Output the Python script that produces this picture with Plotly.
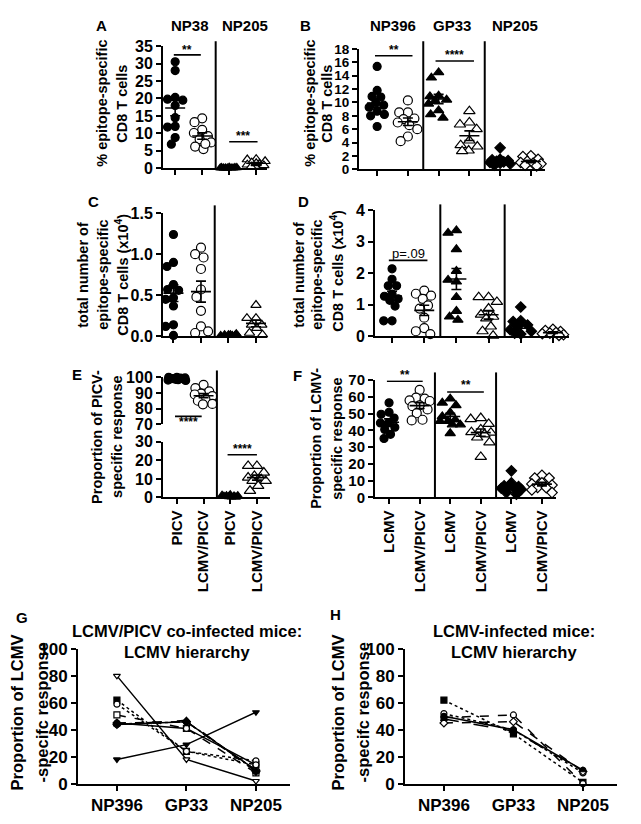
import numpy as np
import plotly.graph_objects as go

W, H = 641, 824
FONT = "Liberation Sans"

# ---------------- data ----------------
# Panel A: % epitope-specific CD8 T cells (PICV vs LCMV/PICV)
A_np38_picv = [30.5, 28.0, 20.3, 19.8, 19.5, 18.0, 14.5, 12.0, 11.8, 8.8, 6.9]
A_np38_coinf = [14.3, 13.2, 11.0, 10.1, 9.2, 8.3, 7.4, 6.2, 5.5, 7.0]
A_np205_picv = [0.3, 0.2, 0.2, 0.1, 0.1, 0.1, 0.05, 0.05, 0.2, 0.1]
A_np205_coinf = [2.6, 2.5, 2.0, 1.6, 1.2, 1.0, 0.8, 0.6, 0.4, 1.4]
# Panel B: % epitope-specific (LCMV vs LCMV/PICV)
B_np396_lcmv = [15.4, 11.8, 10.9, 10.8, 9.9, 9.6, 9.3, 8.7, 8.2, 8.0, 6.4]
B_np396_coinf = [10.3, 8.5, 8.5, 7.6, 7.5, 7.0, 6.6, 6.0, 4.9, 4.2]
B_gp33_lcmv = [14.5, 13.7, 11.0, 10.9, 10.4, 10.2, 9.8, 8.8, 8.2, 7.7]
B_gp33_coinf = [8.7, 7.0, 6.7, 6.0, 4.3, 3.6, 3.4, 2.8, 2.7]
B_np205_lcmv = [3.2, 1.5, 1.4, 1.3, 1.2, 1.1, 1.0, 0.9, 0.8, 0.6]
B_np205_coinf = [2.0, 1.9, 1.5, 1.2, 1.0, 0.9, 0.8, 0.6, 0.5]
# Panel C: total number (x10^4)
C_np38_picv = [1.24, 0.90, 0.85, 0.63, 0.57, 0.56, 0.47, 0.45, 0.37, 0.14, 0.12, 0.01]
C_np38_coinf = [1.08, 1.00, 0.96, 0.82, 0.57, 0.48, 0.31, 0.12, 0.04, 0.06]
C_np205_picv = [0.02, 0.01, 0.03, 0.01, 0.02, 0.01, 0.02, 0.01]
C_np205_coinf = [0.38, 0.22, 0.22, 0.14, 0.14, 0.10, 0.04, 0.02]
# Panel D: total number (x10^4)
D_np396_lcmv = [2.14, 1.81, 1.60, 1.60, 1.34, 1.27, 1.19, 1.14, 0.96, 0.49, 0.49]
D_np396_coinf = [1.45, 1.35, 1.29, 1.19, 0.98, 0.88, 0.59, 0.26, 0.07, 0.16]
D_gp33_lcmv = [3.36, 3.28, 2.76, 2.07, 1.73, 1.79, 1.24, 0.80, 0.62, 0.52]
D_gp33_coinf = [1.24, 1.24, 1.09, 0.88, 0.69, 0.62, 0.57, 0.31, 0.16, 0.02]
D_np205_lcmv = [0.93, 0.49, 0.47, 0.36, 0.31, 0.21, 0.16, 0.07, 0.10]
D_np205_coinf = [0.22, 0.18, 0.15, 0.12, 0.10, 0.08, 0.05, 0.03]
# Panel E: proportion of PICV-specific response
E_np38_picv = [100, 100, 99.6, 99.5, 99.2, 99.0, 99.0, 98.7, 98.5, 98.2, 98.0]
E_np38_coinf = [95.2, 93.1, 91.0, 89.5, 89.0, 88.0, 86.0, 85.0, 83.0, 82.7]
E_np205_picv = [1.5, 1.2, 1.0, 1.0, 0.8, 0.6, 0.5, 0.3, 0.2]
E_np205_coinf = [17.0, 17.0, 13.4, 11.6, 10.7, 9.8, 8.9, 8.9, 6.2, 3.6]
E_labels = ["PICV", "LCMV/PICV", "PICV", "LCMV/PICV"]
# Panel F: proportion of LCMV-specific response
F_np396_lcmv = [56.5, 50.9, 49.7, 47.4, 44.5, 44.5, 42.0, 40.6, 37.7, 35.2]
F_np396_coinf = [64.2, 59.6, 59.0, 58.0, 57.6, 55.0, 54.5, 52.6, 50.3, 46.4, 46.0]
F_gp33_lcmv = [59.0, 56.5, 55.0, 50.7, 48.4, 46.4, 45.5, 45.5, 43.5, 43.5, 38.3]
F_gp33_coinf = [47.4, 46.8, 43.9, 40.6, 39.0, 38.7, 37.7, 35.8, 32.9, 24.2]
F_np205_lcmv = [15.9, 8.7, 7.0, 6.5, 6.5, 5.8, 5.5, 4.8, 2.9, 1.9]
F_np205_coinf = [13.2, 11.6, 11.6, 8.7, 8.1, 7.4, 6.0, 5.8, 4.5, 2.9]
F_labels = ["LCMV", "LCMV/PICV", "LCMV", "LCMV/PICV", "LCMV", "LCMV/PICV"]
# Panels G/H: per-mouse hierarchy
epitopes = ["NP396", "GP33", "NP205"]
G_np396 = [80, 18, 62, 59, 51, 44, 44, 45, 45, 44]
G_gp33 = [18, 29, 24, 24, 41, 46, 46, 41, 46, 47]
G_np205 = [2, 53, 14, 17, 8, 10, 10, 14, 9, 9]
G_symbol = ["triangle-down", "triangle-down", "square", "circle", "square", "circle",
            "diamond", "circle", "diamond", "triangle-up"]
G_fill = [False, True, True, False, False, True, False, False, True, True]
G_dash = ["solid", "solid", "dot", "dot", "dash", "solid", "dashdot", "solid", "dash", "longdash"]
H_np396 = [62, 49, 52, 50, 45, 48]
H_gp33 = [37, 51, 40, 40, 46, 39]
H_np205 = [1, 0, 8, 10, 9, 10]
H_symbol = ["square", "circle", "circle", "circle", "diamond", "triangle-up"]
H_fill = [True, False, False, True, False, True]
H_dash = ["dot", "dash", "dot", "solid", "dash", "longdash"]

# ---------------- helpers ----------------
fig = go.Figure()


def X(px):
    return px / W


def Y(py):
    return 1 - py / H


def swarm(vals, ppx, ppy, d, maxoff):
    placed, offs = [], []
    cands = sorted(np.linspace(-maxoff, maxoff, 29), key=lambda c: (abs(c), c))
    for v in vals:
        best, bestd = 0.0, -1.0
        for c in cands:
            md = min([np.hypot((c - o) * ppx, (v - w) * ppy) for o, w in placed], default=1e9)
            if md >= d:
                best, bestd = c, md
                break
            if md > bestd:
                best, bestd = c, md
        placed.append((best, v))
        offs.append(best)
    return offs


def group(vals, xc, xa, ya, symbol, filled, ppx, ppy, size=8, maxoff=0.33):
    offs = swarm(vals, ppx, ppy, size * 0.95, maxoff)
    fig.add_trace(go.Scatter(
        x=[xc + o for o in offs], y=vals, mode="markers", xaxis=xa, yaxis=ya,
        marker=dict(symbol=symbol, size=size, color="black" if filled else "white",
                    line=dict(color="black", width=1.2)),
        cliponaxis=False, hoverinfo="skip"))
    m = float(np.mean(vals))
    s = float(np.std(vals, ddof=1) / np.sqrt(len(vals)))
    hw, cw = 10 / ppx, 5 / ppx
    fig.add_trace(go.Scatter(
        x=[xc - hw, xc + hw, None, xc - cw, xc + cw, None, xc - cw, xc + cw, None, xc, xc],
        y=[m, m, None, m + s, m + s, None, m - s, m - s, None, m - s, m + s],
        mode="lines", xaxis=xa, yaxis=ya, line=dict(color="black", width=1.6),
        cliponaxis=False, hoverinfo="skip"))


def sig(x0, x1, yv, label, xa, ya, text_py, size=12, bold=True):
    fig.add_shape(type="line", x0=x0, x1=x1, y0=yv, y1=yv, xref=xa, yref=ya,
                  line=dict(color="black", width=1.6))
    fig.add_annotation(x=(x0 + x1) / 2, y=Y(text_py), xref=xa, yref="paper", text=label,
                       showarrow=False, yanchor="middle",
                       font=dict(family=FONT, size=size, color="black",
                                 weight="bold" if bold else "normal"))


def divider(xv, xa, top, bottom):
    fig.add_shape(type="line", x0=xv, x1=xv, y0=Y(bottom), y1=Y(top), xref=xa, yref="paper",
                  line=dict(color="black", width=2))


def text(t, px, py, size=15, angle=0, bold=True):
    fig.add_annotation(x=X(px), y=Y(py), xref="paper", yref="paper", text=t, showarrow=False,
                       textangle=angle, xanchor="center", yanchor="middle",
                       font=dict(family=FONT, size=size, color="black",
                                 weight="bold" if bold else "normal"))


layout_axes = {}


def axes(n, xpx, ypx, xr, yr, ytv, xtv, xtt=None, xangle=None, yfs=16, xfs=15,
         xvis=True, ytf=None):
    sfx = "" if n == 1 else str(n)
    base = dict(showline=True, linecolor="black", linewidth=2, ticks="outside", ticklen=5,
                tickwidth=2, tickcolor="black", showgrid=False, zeroline=False, fixedrange=True)
    xa = dict(base, domain=[X(xpx[0]), X(xpx[1])], range=xr, anchor="y" + sfx,
              tickmode="array", tickvals=xtv, showticklabels=xtt is not None,
              tickfont=dict(family=FONT, size=xfs, color="black", weight="bold"))
    if xtt is not None:
        xa["ticktext"] = xtt
    if xangle is not None:
        xa["tickangle"] = xangle
    if not xvis:
        xa["visible"] = False
    ya = dict(base, domain=[Y(ypx[1]), Y(ypx[0])], range=yr, anchor="x" + sfx,
              tickmode="array", tickvals=ytv,
              tickfont=dict(family=FONT, size=yfs, color="black", weight="bold"))
    if ytf:
        ya["tickformat"] = ytf
    layout_axes["xaxis" + sfx] = xa
    layout_axes["yaxis" + sfx] = ya


# ---------------- Panel A ----------------
axes(1, (163, 267), (38, 163), [0.55, 4.4], [0, 35], list(range(0, 36, 5)), [1, 2, 3, 4])
pA = (27, 125 / 35)
group(A_np38_picv, 1, "x", "y", "circle", True, *pA)
group(A_np38_coinf, 2, "x", "y", "circle", False, *pA, size=9)
group(A_np205_picv, 3, "x", "y", "triangle-up", True, *pA, size=8)
group(A_np205_coinf, 4, "x", "y", "triangle-up", False, *pA, size=9)
divider(2.5, "x", 33, 163)
sig(0.95, 1.95, 32.5, "**", "x", "y", 41.5)
sig(3.0, 4.05, 7.6, "***", "x", "y", 130.5)

# ---------------- Panel B ----------------
axes(2, (359, 545), (41, 164), [0.41, 6.46], [0, 18], list(range(0, 19, 2)), [1, 2, 3, 4, 5, 6],
     yfs=13.5)
pB = (30.7, 123 / 18)
group(B_np396_lcmv, 1, "x2", "y2", "circle", True, *pB)
group(B_np396_coinf, 2, "x2", "y2", "circle", False, *pB, size=9)
group(B_gp33_lcmv, 3, "x2", "y2", "triangle-up", True, *pB, size=9)
group(B_gp33_coinf, 4, "x2", "y2", "triangle-up", False, *pB, size=10)
group(B_np205_lcmv, 5, "x2", "y2", "diamond", True, *pB)
group(B_np205_coinf, 6, "x2", "y2", "diamond", False, *pB)
divider(2.5, "x2", 33, 164)
divider(4.5, "x2", 33, 164)
sig(0.93, 2.15, 17.0, "**", "x2", "y2", 41.5)
sig(2.9, 4.15, 16.2, "****", "x2", "y2", 47.5)

# ---------------- Panel C ----------------
axes(3, (163, 267), (209, 335), [0.62, 4.4], [0, 1.5], [0, 0.5, 1.0, 1.5], [1, 2, 3, 4],
     ytf=".1f")
pC = (27.5, 126 / 1.5)
group(C_np38_picv, 1, "x3", "y3", "circle", True, *pC)
group(C_np38_coinf, 2, "x3", "y3", "circle", False, *pC, size=9)
group(C_np205_picv, 3, "x3", "y3", "triangle-up", True, *pC, size=8)
group(C_np205_coinf, 4, "x3", "y3", "triangle-up", False, *pC, size=9)
divider(2.5, "x3", 201, 335)

# ---------------- Panel D ----------------
axes(4, (375, 569), (206, 335), [0.47, 6.5], [0, 4], [0, 1, 2, 3, 4], [1, 2, 3, 4, 5, 6])
pD = (32.2, 129 / 4)
group(D_np396_lcmv, 1, "x4", "y4", "circle", True, *pD)
group(D_np396_coinf, 2, "x4", "y4", "circle", False, *pD, size=9)
group(D_gp33_lcmv, 3, "x4", "y4", "triangle-up", True, *pD, size=9)
group(D_gp33_coinf, 4, "x4", "y4", "triangle-up", False, *pD, size=10)
group(D_np205_lcmv, 5, "x4", "y4", "diamond", True, *pD)
group(D_np205_coinf, 6, "x4", "y4", "diamond", False, *pD)
divider(2.5, "x4", 200, 335)
divider(4.5, "x4", 200, 335)
sig(0.9, 2.1, 2.41, "p=.09", "x4", "y4", 250, size=13, bold=False)

# ---------------- Panel E (broken axis) ----------------
axes(5, (163, 270), (443, 500), [0.48, 4.49], [0, 30], [0, 10, 20, 30], [1, 2, 3, 4],
     xtt=E_labels, xangle=-90)
axes(6, (163, 270), (377, 425), [0.48, 4.49], [70, 100], [70, 80, 90, 100], [1, 2, 3, 4],
     xvis=False)
pEu = (26.7, 48 / 30)
pEl = (26.7, 57 / 30)
group(E_np38_picv, 1, "x6", "y6", "circle", True, *pEu)
group(E_np38_coinf, 2, "x6", "y6", "circle", False, *pEu, size=9)
group(E_np205_picv, 3, "x5", "y5", "triangle-up", True, *pEl)
group(E_np205_coinf, 4, "x5", "y5", "triangle-up", False, *pEl, size=10)
divider(2.5, "x5", 370, 500)
sig(0.93, 1.93, 75, "****", "x6", "y6", 423)
sig(2.9, 4.0, 23, "****", "x5", "y5", 450.5)

# ---------------- Panel F ----------------
axes(7, (375, 556), (380, 500), [0.54, 6.46], [0, 70], list(range(0, 71, 10)),
     [1, 2, 3, 4, 5, 6], xtt=F_labels, xangle=-90, yfs=15)
pF = (30.6, 120 / 70)
group(F_np396_lcmv, 1, "x7", "y7", "circle", True, *pF)
group(F_np396_coinf, 2, "x7", "y7", "circle", False, *pF, size=9)
group(F_gp33_lcmv, 3, "x7", "y7", "triangle-up", True, *pF, size=9)
group(F_gp33_coinf, 4, "x7", "y7", "triangle-up", False, *pF, size=10)
group(F_np205_lcmv, 5, "x7", "y7", "diamond", True, *pF)
group(F_np205_coinf, 6, "x7", "y7", "diamond", False, *pF)
divider(2.5, "x7", 372, 500)
divider(4.5, "x7", 372, 500)
sig(0.93, 2.1, 69.4, "**", "x7", "y7", 375)
sig(2.9, 4.1, 63, "**", "x7", "y7", 385)

# ---------------- Panels G / H ----------------
axes(8, (78, 290), (655, 793), [-0.56, 2.49], [0, 100], list(range(0, 101, 20)), [0, 1, 2],
     xtt=epitopes, xfs=17, yfs=17)
axes(9, (405, 617), (655, 793), [-0.56, 2.49], [0, 100], list(range(0, 101, 20)), [0, 1, 2],
     xtt=epitopes, xfs=17, yfs=17)


def mice(a, b, c, syms, fills, dashes, xa, ya):
    for i in range(len(a)):
        fig.add_trace(go.Scatter(
            x=[0, 1, 2], y=[a[i], b[i], c[i]], mode="lines+markers", xaxis=xa, yaxis=ya,
            line=dict(color="black", width=1.5, dash=dashes[i]),
            marker=dict(symbol=syms[i], size=6, color="black" if fills[i] else "white",
                        line=dict(color="black", width=1.2)),
            cliponaxis=False, hoverinfo="skip"))


mice(G_np396, G_gp33, G_np205, G_symbol, G_fill, G_dash, "x8", "y8")
mice(H_np396, H_gp33, H_np205, H_symbol, H_fill, H_dash, "x9", "y9")

# ---------------- texts ----------------
text("A", 101, 17)
text("B", 305, 17)
text("C", 93, 197)
text("D", 303, 197)
text("E", 77, 374)
text("F", 297, 375)
text("G", 22, 623)
text("H", 335, 620)
text("NP38", 190, 17)
text("NP205", 245, 17)
text("NP396", 393, 17)
text("GP33", 452, 17)
text("NP205", 515, 17)
TS = 14.5
text("% epitope-specific", 102, 97, TS, -90)
text("CD8 T cells", 122, 97, TS, -90)
text("% epitope-specific", 310, 97, TS, -90)
text("CD8 T cells", 327, 97, TS, -90)
text("total number of", 83, 272, TS, -90)
text("epitope-specific", 103, 272, TS, -90)
text("CD8 T cells (x10<sup>4</sup>)", 122, 272, TS, -90)
text("total number of", 299, 272, TS, -90)
text("epitope-specific", 317, 272, TS, -90)
text("CD8 T cells (x10<sup>4</sup>)", 337, 268, TS, -90)
text("Proportion of PICV-", 97, 438, TS, -90)
text("specific response", 117, 438, TS, -90)
text("Proportion of LCMV-", 316, 440, TS, -90)
text("specific response", 337, 440, TS, -90)
text("Proportion of LCMV", 17, 720, 16.5, -90)
text("-specifc response", 42, 720, 16.5, -90)
text("Proportion of LCMV", 338, 720, 16.5, -90)
text("-specifc response", 363, 720, 16.5, -90)
text("LCMV/PICV co-infected mice:", 187, 637, 16.5)
text("LCMV hierarchy", 187, 658, 16.5)
text("LCMV-infected mice:", 514, 637, 16.5)
text("LCMV hierarchy", 514, 658, 16.5)

fig.update_layout(
    width=W, height=H, margin=dict(l=0, r=0, t=0, b=0, pad=0),
    paper_bgcolor="white", plot_bgcolor="white", showlegend=False,
    font=dict(family=FONT, color="black"),
    **layout_axes)

fig.write_html("out.html", config={"displayModeBar": False},
               post_script="document.body.style.margin='0px';"
                           "document.body.style.overflow='hidden';")
